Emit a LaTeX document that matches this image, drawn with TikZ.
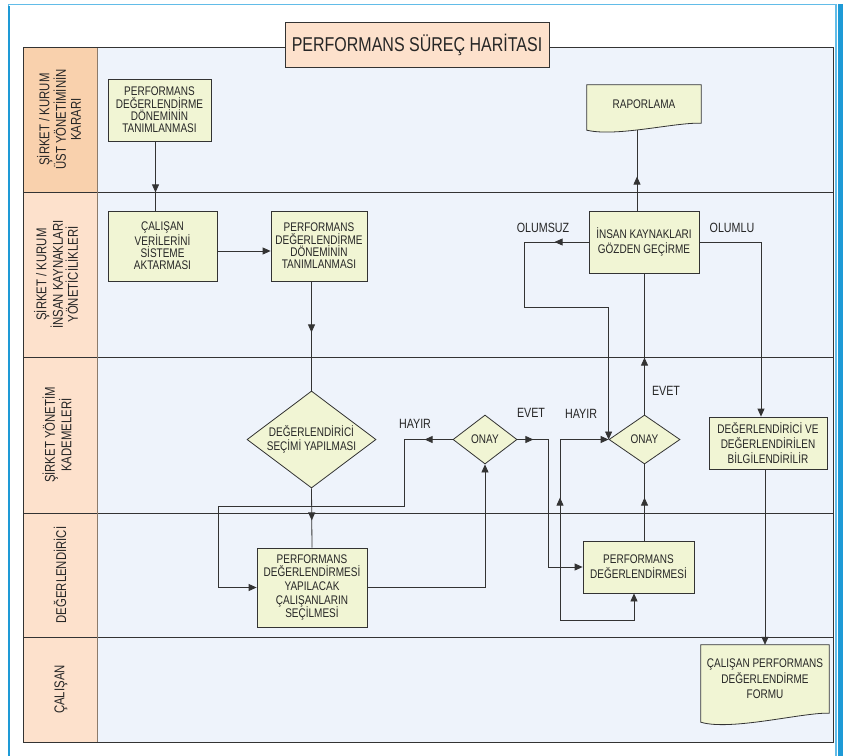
\documentclass[tikz,border=0pt]{standalone}
\usepackage{fontspec}
\setmainfont{Liberation Sans}[FakeStretch=0.8]
\usetikzlibrary{shapes.geometric,arrows.meta,calc,decorations.markings}
\definecolor{framec}{HTML}{1E9AD6}
\definecolor{framelt}{HTML}{62BCE8}
\definecolor{lanehi}{HTML}{F9D1AD}
\definecolor{lanelo}{HTML}{FDE1CC}
\definecolor{contentc}{HTML}{EEF3FB}
\definecolor{boxfill}{HTML}{F1F5D4}
\definecolor{linec}{HTML}{333333}
\definecolor{sidec}{HTML}{8C7B6B}
\definecolor{textc}{HTML}{262626}
\pgfdeclarelayer{bg}
\pgfsetlayers{bg,main}
% wavy document outline round a node: #1 node, #2 drop of the left end
\newcommand{\docshape}[2]{%
  \filldraw[boxline,fill=boxfill] (#1.north west) -- (#1.north east) -- (#1.south east)
    .. controls ($(#1.south east)+(-26,-1)$) and ($(#1.south west)+(30,#2*2)$) .. ($(#1.south west)+(0,#2)$) -- cycle;}

\begin{document}
\begin{tikzpicture}[x=1pt,y=-1pt,
  >={Triangle[length=8pt,width=7pt]},
  every node/.style={text=textc},
  boxline/.style={draw=linec,line width=0.8pt},
  box/.style={boxline,fill=boxfill,align=center,inner sep=0pt,font=\fontsize{12.5}{12.4}\selectfont},
  widebox/.style={box,font=\fontsize{12.5}{15}\selectfont},
  decision/.style={box,diamond,aspect=1.3},
  doc/.style={align=center,inner sep=0pt,font=\fontsize{12.5}{15.5}\selectfont},
  lanelab/.style={rotate=90,align=center,font=\fontsize{14.2}{15}\selectfont},
  titlebox/.style={boxline,fill=lanelo,minimum width=264pt,minimum height=45pt,font=\fontsize{20}{22}\selectfont},
  tag/.style={inner sep=1pt,font=\fontsize{13.4}{14}\selectfont},
  link/.style={draw,color=linec,line width=0.8pt},
  flow/.style={link,->},
  arrowat/.style={postaction={decorate},decoration={markings,mark=at position #1 with {\arrow{>}}}}]
\useasboundingbox (0,0) rectangle (843,755);

% frame and lanes
\draw[framelt,line width=1.2pt] (8.5,760) -- (8.5,4.5) -- (836,4.5) -- (836,760);
\draw[framec,line width=2pt] (8.5,760) -- (8.5,6);
\draw[framec,line width=4.5pt] (840.5,4) -- (840.5,760);
\begin{pgfonlayer}{bg}
\fill[contentc] (97,47) rectangle (833,742);
\fill[lanehi] (23,47) rectangle (97,192);
\fill[lanelo] (23,192) rectangle (97,742);
\foreach \y in {192,357,513,637}
  \draw[linec,line width=0.9pt] (23,\y) -- (833,\y);
\draw[sidec,line width=1pt] (97,47) -- (97,742);
\draw[linec,line width=1pt] (23,47) rectangle (833,742);
\end{pgfonlayer}

\node[titlebox] (title) at (417,44.5) {PERFORMANS SÜREÇ HARİTASI};

\node[lanelab] (lane1) at (59,119.5) {ŞİRKET / KURUM\\ÜST YÖNETİMİNİN\\KARARI};
\node[lanelab] (lane2) at (56,274.5) {ŞİRKET / KURUM\\İNSAN KAYNAKLARI\\YÖNETİCİLİKLERİ};
\node[lanelab] (lane3) at (57,435) {ŞİRKET YÖNETİM\\KADEMELERİ};
\node[lanelab] (lane4) at (60,575) {DEĞERLENDİRİCİ};
\node[lanelab] (lane5) at (61,689.5) {ÇALIŞAN};

% steps
\node[box,minimum width=103pt,minimum height=62pt] (b1) at (159.5,110) {PERFORMANS\\DEĞERLENDİRME\\DÖNEMİNİN\\TANIMLANMASI};
\node[box,minimum width=109pt,minimum height=70pt] (b2) at (162.5,246) {ÇALIŞAN\\VERİLERİNİ\\SİSTEME\\AKTARMASI};
\node[box,minimum width=96pt,minimum height=70pt] (b3) at (319,246) {PERFORMANS\\DEĞERLENDİRME\\DÖNEMİNİN\\TANIMLANMASI};
\node[decision,minimum width=129pt,minimum height=97pt,font=\fontsize{12.5}{13.3}\selectfont] (d1) at (311.5,439.5) {DEĞERLENDİRİCİ\\SEÇİMİ YAPILMASI};
\node[box,font=\fontsize{12.5}{13.7}\selectfont,minimum width=110pt,minimum height=79pt] (b4) at (312,587.5) {PERFORMANS\\DEĞERLENDİRMESİ\\YAPILACAK\\ÇALIŞANLARIN\\SEÇİLMESİ};
\node[decision,minimum width=64pt,minimum height=49pt] (o1) at (485,439.5) {ONAY};
\node[widebox,minimum width=111pt,minimum height=52pt] (b5) at (638.5,567) {PERFORMANS\\DEĞERLENDİRMESİ};
\node[decision,minimum width=71pt,minimum height=49pt] (o2) at (644.5,439.5) {ONAY};
\node[widebox,minimum width=110pt,minimum height=62pt] (ik) at (644,242) {İNSAN KAYNAKLARI\\GÖZDEN GEÇİRME};
\node[widebox,minimum width=118pt,minimum height=52pt] (b6) at (768,443) {DEĞERLENDİRİCİ VE\\DEĞERLENDİRİLEN\\BİLGİLENDİRİLİR};
\node[doc,minimum width=114pt,minimum height=38pt] (rap) at (644,104) {RAPORLAMA};
\node[doc,minimum width=128pt,minimum height=68pt] (form) at (765,679) {ÇALIŞAN PERFORMANS\\DEĞERLENDİRME\\FORMU};
\begin{pgfonlayer}{bg}
\docshape{rap}{7}
\docshape{form}{9}
\end{pgfonlayer}

% labels
\node[tag] (hayir1) at (415,424) {HAYIR};
\node[tag] (evet1) at (531,413) {EVET};
\node[tag] (hayir2) at (581,414) {HAYIR};
\node[tag] (evet2) at (666,391) {EVET};
\node[tag] (olumsuz) at (543,228) {OLUMSUZ};
\node[tag] (olumlu) at (732,228) {OLUMLU};

% bends
\coordinate (h1) at (404,506);
\coordinate (h2) at (218,506);
\coordinate (e1) at (548,567);
\coordinate (r1) at (560,620);
\coordinate (n1) at (524,307);

% connectors
\path[link,arrowat=51pt] ([xshift=-4pt]b1.south) -- ([xshift=-4pt]b1.south |- b2.north);
\path[flow] ([yshift=-5pt]b2.east) -- ([yshift=-5pt]b3.west);
\path[link,arrowat=51pt] (b3.south -| d1.north) -- (d1.north);
\path[link,arrowat=32pt] (d1.south) -- (b4.north);
\path[flow] (b4.east) -| (o1.south);
\path[flow,arrowat=28pt] (o1.west) -| (h1) -- (h2) |- (b4.west);
\path[flow,arrowat=16pt] (o1.east) -| (e1) -- (b5.west);
\path[link,arrowat=43pt] (b5.north -| o2.south) -- (o2.south);
\path[link,<->,arrowat=223pt] ([xshift=-4.5pt]b5.south) |- (r1) |- (o2.west);
\path[link,arrowat=57pt] (o2.north) -- (o2.north |- ik.south);
\path[flow,arrowat=34pt] (ik.west) -| (n1) -| (o2.west);
\path[flow] (ik.east) -| ([xshift=-7pt]b6.north);
\path[link,arrowat=34pt] ([xshift=-7pt]ik.north) -- ([xshift=-7pt,yshift=-7pt]rap.south);
\path[flow] (b6.south -| form.north) -- (form.north);
\end{tikzpicture}
\end{document}
